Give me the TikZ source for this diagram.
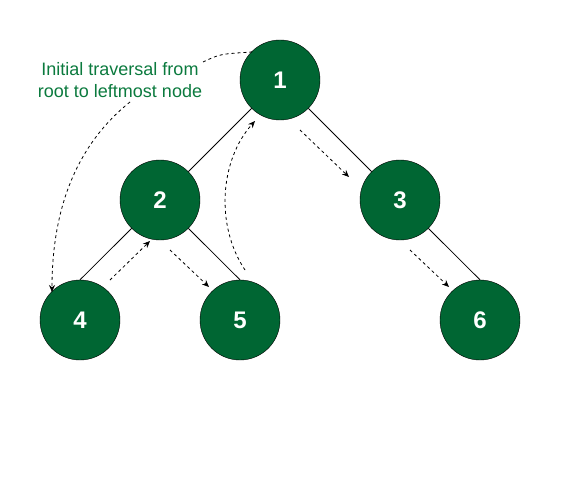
\documentclass[tikz,border=0pt]{standalone}
\usepackage{fontspec}
\setmainfont{Liberation Sans}
\usetikzlibrary{arrows.meta}
\definecolor{gfg}{HTML}{006633}
\definecolor{gfgtext}{HTML}{0B7A3E}
\begin{document}
\begin{tikzpicture}[x=1pt,y=-1pt,
  tn/.style={circle,draw=black,fill=gfg,minimum size=80pt,inner sep=0pt,text=white,font=\fontsize{24}{28}\selectfont\bfseries},
  edge/.style={draw=black,line width=0.8pt},
  trav/.style={draw=black,dashed,dash pattern=on 3pt off 3pt,line width=0.8pt,-{Stealth[length=7pt,width=6pt]}},
  travplain/.style={draw=black,dashed,dash pattern=on 3pt off 3pt,line width=0.8pt}]
\useasboundingbox (0,0) rectangle (561,481);
\node[tn] (n1) at (280,80) {1};
\node[tn] (n2) at (160,200) {2};
\node[tn] (n3) at (400,200) {3};
\node[tn] (n4) at (80,320) {4};
\node[tn] (n5) at (240,320) {5};
\node[tn] (n6) at (480,320) {6};
\draw[edge] (n1.south west) -- (n2.north east);
\draw[edge] (n1.south east) -- (n3.north west);
\draw[edge] (n2.south west) -- (n4.north);
\draw[edge] (n2.south east) -- (n5.north);
\draw[edge] (n3.south east) -- (n6.north);
\node[align=center,text=gfgtext,font=\fontsize{18}{22}\selectfont] (lbl) at (120,80) {Initial traversal from\\root to leftmost node};
\coordinate (a0) at (203,62);
\coordinate (a1) at (252,52);
\draw[travplain] (a0) .. controls (220,54) .. (a1);
\coordinate (b0) at (130,102);
\coordinate (b1) at (52,292);
\draw[trav] (b0) .. controls (70,150) and (52,220) .. (b1);
\coordinate (c0) at (110,280);
\coordinate (c1) at (150,241);
\draw[trav] (c0) -- (c1);
\coordinate (d0) at (170,250);
\coordinate (d1) at (209,287);
\draw[trav] (d0) -- (d1);
\coordinate (e0) at (245,270);
\coordinate (e1) at (255,121);
\draw[trav] (e0) .. controls (215,225) and (220,160) .. (e1);
\coordinate (f0) at (300,130);
\coordinate (f1) at (349,177);
\draw[trav] (f0) -- (f1);
\coordinate (g0) at (410,250);
\coordinate (g1) at (449,287);
\draw[trav] (g0) -- (g1);
\end{tikzpicture}
\end{document}
